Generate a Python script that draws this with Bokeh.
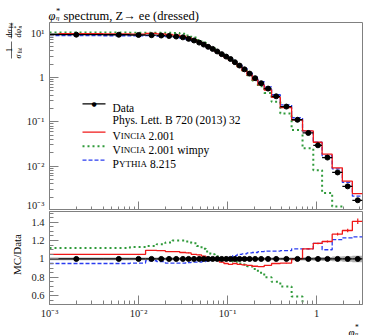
import math
from bokeh.plotting import figure
from bokeh.models import Range1d, FixedTicker, CustomJSTickFormatter, Label, Arrow
from bokeh.core.properties import value
from bokeh.layouts import column, row
from bokeh.embed import file_html
from bokeh.resources import INLINE

# ---------------- data ----------------
phi_edges = [0.0, 0.004, 0.008, 0.012, 0.016, 0.020, 0.024, 0.029, 0.034, 0.039,
             0.045, 0.051, 0.057, 0.064, 0.072, 0.081, 0.091, 0.102, 0.114, 0.128,
             0.145, 0.165, 0.189, 0.219, 0.258, 0.312, 0.391, 0.524, 0.695, 0.918,
             1.153, 1.496, 1.947, 2.522, 3.277]

data_y = [9.2, 9.15, 9.05, 8.95, 8.8, 8.6, 8.35, 8.0, 7.4, 6.8,
          6.1, 5.5, 4.9, 4.4, 3.85, 3.35, 2.95, 2.6, 2.2, 1.85,
          1.52, 1.22, 0.96, 0.74, 0.56, 0.375, 0.22, 0.111, 0.056, 0.0295,
          0.0156, 0.0072, 0.0035, 0.0017]

data_rel_err = [0.015] * 27 + [0.016, 0.018, 0.02, 0.022, 0.025, 0.03, 0.035]

ratio_vincia = [1.05, 1.05, 1.05, 1.094, 1.09, 1.08, 1.08, 1.07, 1.065, 1.05,
                1.045, 1.03, 1.015, 1.0, 0.985, 0.965, 0.95, 0.94, 0.95, 0.94,
                0.935, 0.93, 0.92, 0.915, 0.93, 0.95, 0.955, 1.0, 1.11, 1.17,
                1.19, 1.27, 1.31, 1.41]
ratio_vincia_err = [0.004] * 28 + [0.008, 0.01, 0.012, 0.015, 0.02, 0.03]

ratio_wimpy = [1.12, 1.12, 1.13, 1.14, 1.16, 1.18, 1.20, 1.20, 1.19, 1.17,
               1.14, 1.11, 1.08, 1.05, 1.03, 1.01, 1.0, 0.99, 0.97, 0.95,
               0.94, 0.92, 0.89, 0.85, 0.80, 0.75, 0.70, 0.59, 0.45, 0.275,
               0.16, 0.17, float("nan"), float("nan")]

ratio_pythia = [0.95, 0.95, 0.955, 0.98, 0.97, 0.955, 0.955, 0.955, 0.96, 0.965,
                0.965, 0.97, 0.98, 0.985, 0.99, 1.0, 1.005, 1.02, 1.035, 1.05,
                1.055, 1.065, 1.07, 1.08, 1.085, 1.085, 1.09, 1.11, 1.11, 1.17,
                1.10, 1.21, 1.23, 1.24]

X_MIN, X_MAX = 1e-3, 3.277
Y_MIN, Y_MAX = 1e-3, 17.3
R_MIN, R_MAX = 0.503, 1.517

RED, GREEN, BLUE = "#f01818", "#2f9a3a", "#2a3cf0"
FONT = "Liberation Serif"
AXC = "#808080"

lo = [max(e, X_MIN) for e in phi_edges[:-1]]
hi = phi_edges[1:]
centers = [(a + b) / 2 for a, b in zip(phi_edges[:-1], phi_edges[1:])]


def step_xy(vals):
    xs, ys = [], []
    for a, b, v in zip(lo, hi, vals):
        xs += [a, b]
        ys += [v, v]
    return xs, ys


def scaled(ratios):
    return [d * r for d, r in zip(data_y, ratios)]


def log_fmt():
    return CustomJSTickFormatter(code="""
const e = Math.round(Math.log10(tick));
if (e === 0) return "1";
const m = {"-": "\\u207b", "0": "\\u2070", "1": "\\u00b9", "2": "\\u00b2", "3": "\\u00b3"};
return "10" + String(e).split("").map(c => m[c]).join("");
""")


# ---------------- layout geometry (page pixels) ----------------
LW = 22                    # width of the left text strip
FL, FW = 49, 313           # frame left / width
FT, FH1, FH2 = 22, 188, 93
RB_BORDER = 15             # below ratio frame (tick labels)
XL_H = 15                  # strip with the x-axis label
TOTAL_W = 370

xr = Range1d(X_MIN, X_MAX)

p = figure(frame_width=FW, frame_height=FH1, x_axis_type="log", y_axis_type="log",
           x_range=xr, y_range=Range1d(Y_MIN, Y_MAX), output_backend="svg",
           toolbar_location=None, min_border_left=FL - LW, min_border_right=8,
           min_border_top=0, min_border_bottom=0, title=None)
r = figure(frame_width=FW, frame_height=FH2, x_axis_type="log", x_range=xr,
           y_range=Range1d(R_MIN, R_MAX), output_backend="svg", toolbar_location=None,
           min_border_left=FL - LW, min_border_right=8, min_border_top=0,
           min_border_bottom=RB_BORDER, title=None)

for f in (p, r):
    f.grid.visible = False
    f.outline_line_color = AXC
    f.background_fill_color = "white"
    f.border_fill_color = "white"
    for ax in f.axis:
        ax.axis_line_color = AXC
        ax.major_tick_line_color = AXC
        ax.minor_tick_line_color = AXC
        ax.major_tick_in = 9
        ax.major_tick_out = 0
        ax.minor_tick_in = 4
        ax.minor_tick_out = 0
        ax.major_label_text_font = FONT
        ax.major_label_text_font_size = "10.5px"
        ax.major_label_text_color = "#222222"

p.xaxis.formatter = CustomJSTickFormatter(code="return '';")
p.xaxis.major_label_text_font_size = "1px"
p.xaxis.major_label_standoff = 0
p.yaxis.formatter = log_fmt()
r.xaxis.formatter = log_fmt()
p.yaxis.major_label_standoff = 5
r.xaxis.major_label_standoff = 3
r.yaxis.ticker = FixedTicker(ticks=[0.6, 0.8, 1.0, 1.2, 1.4],
                             minor_ticks=[0.55 + 0.05 * i for i in range(20)])
r.yaxis.formatter = CustomJSTickFormatter(code="return tick.toFixed(1).replace(/\\.0$/, '');")
r.yaxis.major_label_standoff = 5

# ---------------- main panel ----------------
for ratios, col, dash, lw in ((ratio_wimpy, GREEN, "2 3", 2.0),
                              (ratio_pythia, BLUE, "4 2", 1.3),
                              (ratio_vincia, RED, "solid", 1.3)):
    xs, ys = step_xy(scaled(ratios))
    p.line(xs, ys, line_color=col, line_dash=dash, line_width=lw)

p.segment(x0=lo, y0=data_y, x1=hi, y1=data_y, line_color="black", line_width=1.3)
p.scatter(centers, data_y, size=5, color="black")

# ---------------- ratio panel ----------------
bx, _ = step_xy(data_y)
band_lo = []
band_hi = []
for e in data_rel_err:
    band_lo += [1 - e, 1 - e]
    band_hi += [1 + e, 1 + e]
r.varea(x=bx, y1=band_lo, y2=band_hi, fill_color="#9a9a9a", fill_alpha=0.8)

for ratios, col, dash, lw in ((ratio_wimpy, GREEN, "2 3", 2.0),
                              (ratio_pythia, BLUE, "4 2", 1.3),
                              (ratio_vincia, RED, "solid", 1.3)):
    xs, ys = step_xy(ratios)
    r.line(xs, ys, line_color=col, line_dash=dash, line_width=lw)

r.segment(x0=centers, y0=[v - e for v, e in zip(ratio_vincia, ratio_vincia_err)],
          x1=centers, y1=[v + e for v, e in zip(ratio_vincia, ratio_vincia_err)],
          line_color=RED, line_width=1.2)
ones = [1.0] * len(centers)
r.segment(x0=lo, y0=ones, x1=hi, y1=ones, line_color="black", line_width=1.3)
r.scatter(centers, ones, size=5, color="black")


# ---------------- legend inside the main frame ----------------
MB = FT + FH1   # page y of the main frame bottom


def lab(x, y, text, size, align="left", baseline="alphabetic", font=FONT):
    p.add_layout(Label(x=x - FL, y=MB - y, x_units="screen", y_units="screen",
                       text=text, text_font=font, text_font_size=f"{size}px",
                       text_color="black", text_align=align, text_baseline=baseline))


def seg(x0, y0, x1, y1, color, dash="solid", width=1.3):
    p.add_layout(Arrow(x_start=x0 - FL, y_start=MB - y0, x_end=x1 - FL, y_end=MB - y1,
                       start_units="screen", end_units="screen", start=None, end=None,
                       line_color=color, line_dash=dash, line_width=width))


LX0, LX1, TX = 82, 105, 112
seg(LX0, 103.3, LX1, 103.3, "black")
lab(93.5, 103.3, "●", 6, align="center", baseline="middle", font="DejaVu Sans")
lab(TX, 107, "Data", 11.5)
lab(TX, 119, "Phys. Lett. B 720 (2013) 32", 11.5)

seg(LX0, 131.7, LX1, 131.7, RED)
lab(TX, 135.5, "V", 11.5)
lab(TX + 8.3, 135.5, "INCIA", 9)
lab(TX + 36, 135.5, "2.001", 11.5)

seg(LX0, 145.7, LX1, 145.7, GREEN, dash="2 3", width=2)
lab(TX, 149.5, "V", 11.5)
lab(TX + 8.3, 149.5, "INCIA", 9)
lab(TX + 36, 149.5, "2.001 wimpy", 11.5)

seg(LX0, 159.7, LX1, 159.7, BLUE, dash="4 2")
lab(TX, 163.5, "P", 11.5)
lab(TX + 6.4, 163.5, "YTHIA", 9)
lab(TX + 37.5, 163.5, "8.215", 11.5)


# ---------------- text strips outside the frames ----------------
def strip(w, h):
    f = figure(width=w, height=h, x_range=Range1d(0, w), y_range=Range1d(0, h),
               output_backend="svg", toolbar_location=None, min_border=0,
               x_axis_type=None, y_axis_type=None, title=None)
    f.grid.visible = False
    f.outline_line_color = None
    f.background_fill_color = "white"
    f.border_fill_color = "white"
    return f


def txt(f, h, x, y, s, size, angle=0.0, align="left", baseline="alphabetic",
        style="normal"):
    # x, y: pixel position inside the strip, y measured from its top
    f.text(x=[x], y=[h - y], text=[s], text_font=value(FONT),
           text_font_size=value(f"{size}px"), text_font_style=style, angle=angle,
           text_align=align, text_baseline=baseline, text_color="black")


HALF_PI = math.pi / 2

# title strip (page y 0..22)
title_f = strip(TOTAL_W, FT)
txt(title_f, FT, 48, 15, "φ", 12.5, style="italic")
txt(title_f, FT, 55.5, 10, "*", 8.5)
txt(title_f, FT, 55.5, 17, "η", 7, style="italic")
txt(title_f, FT, 63, 15, "spectrum, Z→ ee (dressed)", 12.5)

# left strip of the main panel (page y 22..211): rotated fraction label
YH = FH1 + 1
Y0 = FT
ylab_f = strip(LW, YH)
txt(ylab_f, YH, 8.5, 37 - Y0, "dσ", 8, angle=HALF_PI)
txt(ylab_f, YH, 10, 28 - Y0, "fid", 5.5, angle=HALF_PI)
ylab_f.line([11, 11], [YH - (38 - Y0), YH - (22 - Y0)], line_color="black", line_width=0.6)
txt(ylab_f, YH, 18, 37 - Y0, "dφ", 8, angle=HALF_PI, style="italic")
txt(ylab_f, YH, 15, 28 - Y0, "*", 5.5, angle=HALF_PI)
txt(ylab_f, YH, 19.5, 28 - Y0, "η", 5.5, angle=HALF_PI, style="italic")
txt(ylab_f, YH, 8.5, 49.5 - Y0, "1", 8, angle=HALF_PI, align="center")
ylab_f.line([11, 11], [YH - (58 - Y0), YH - (41 - Y0)], line_color="black", line_width=0.6)
txt(ylab_f, YH, 18, 58 - Y0, "σ", 8, angle=HALF_PI, style="italic")
txt(ylab_f, YH, 19.5, 53 - Y0, "fid", 5.5, angle=HALF_PI)

# left strip of the ratio panel
RH = FH2 + RB_BORDER
mclab_f = strip(LW, RH)
R0 = FT + FH1 + 1
txt(mclab_f, RH, 16.5, 262 - R0, "MC/Data", 11, angle=HALF_PI, align="center")

# bottom strip with the x-axis label
xlab_f = strip(TOTAL_W, XL_H)
txt(xlab_f, XL_H, 348, 10.5, "φ", 11, style="italic")
txt(xlab_f, XL_H, 354.5, 6, "*", 7.5)
txt(xlab_f, XL_H, 354.5, 12, "η", 6.5, style="italic")

layout = column(title_f, row(ylab_f, p), row(mclab_f, r), xlab_f)
open("out.html", "w").write(file_html(layout, INLINE))
